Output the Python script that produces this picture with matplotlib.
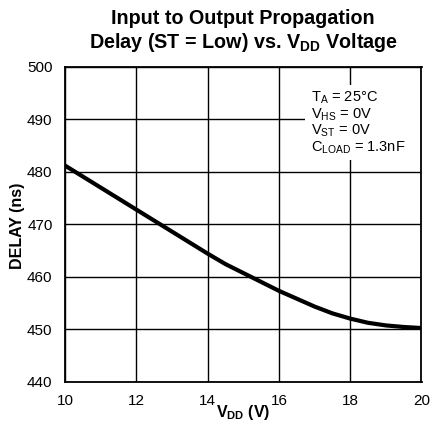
import matplotlib
matplotlib.use("Agg")
import matplotlib.pyplot as plt
from matplotlib.patches import Rectangle

vdd = [10, 11, 12, 13, 14, 14.5, 15, 15.5, 16, 16.5, 17, 17.5, 18, 18.5, 19, 19.5, 20]
delay = [481.2, 477.0, 472.8, 468.6, 464.4, 462.4, 460.7, 459.0, 457.3, 455.8, 454.3, 453.0, 452.0, 451.2, 450.7, 450.4, 450.2]
xticks = [10, 12, 14, 16, 18, 20]
yticks = [440, 450, 460, 470, 480, 490, 500]

plt.rcParams['font.family'] = ['Liberation Sans', 'DejaVu Sans']
plt.rcParams['mathtext.fontset'] = 'custom'
plt.rcParams['mathtext.rm'] = 'Liberation Sans'
plt.rcParams['mathtext.bf'] = 'Liberation Sans:bold'
plt.rcParams['mathtext.it'] = 'Liberation Sans:italic'

fig = plt.figure(figsize=(4.30, 4.29), dpi=100)
ax = fig.add_axes([65/430, 1-381.5/429, (421.5-65)/430, (381.5-67)/429])

ax.plot(vdd, delay, color='black', lw=3.0, solid_capstyle='butt', zorder=3)
ax.set_xlim(10, 20)
ax.set_ylim(440, 500)
ax.set_xticks(xticks)
ax.set_yticks(yticks)
ax.grid(True, color='black', lw=1.0)
ax.tick_params(length=0, labelsize=11, pad=9)
for s in ax.spines.values():
    s.set_linewidth(1.3)
    s.set_zorder(4)

cx = 0.5 * (65 + 421.5) / 430
fig.text(cx, 1 - 18/429, 'Input to Output Propagation',
         ha='center', va='center', fontsize=14.2, fontweight='bold')
fig.text(cx, 1 - 42/429, r'Delay (ST = Low) vs. V$_{\mathbf{DD}}$ Voltage',
         ha='center', va='center', fontsize=14.2, fontweight='bold')

fig.text(243/430, 1 - 412/429, r'V$_{\mathbf{DD}}$ (V)', ha='center', va='center',
         fontsize=11.5, fontweight='bold')
fig.text(18/430, 1 - 226/429, 'DELAY (ns)', ha='center', va='center', rotation=90,
         fontsize=11.5, fontweight='bold')

# white box behind annotation
ax.add_patch(Rectangle((16.73, 482.3), 20 - 16.73, 496.6 - 482.3,
                       facecolor='white', edgecolor='none', zorder=2.5))

ann = (r'T$_{\mathrm{A}}$ = 25°C' + '\n' + r'V$_{\mathrm{HS}}$ = 0V' + '\n' +
       r'V$_{\mathrm{ST}}$ = 0V' + '\n' + r'C$_{\mathrm{LOAD}}$ = 1.3nF')
fig.text(311/430, 1 - 90/429, ann, ha='left', va='top', fontsize=10.5, linespacing=1.0, zorder=5)

fig.savefig('out.png', dpi=100)
